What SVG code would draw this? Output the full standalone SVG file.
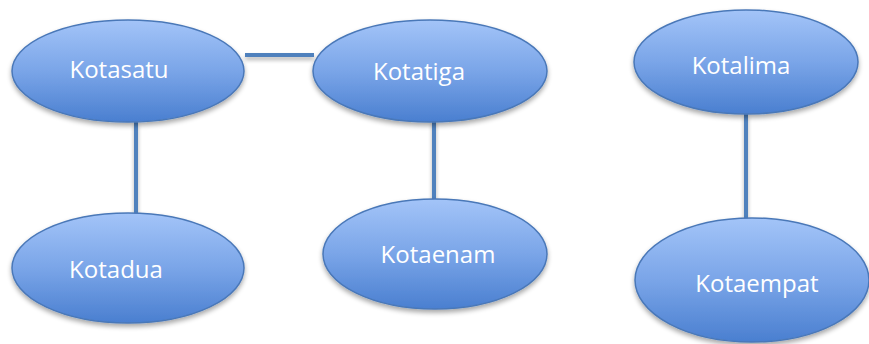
<svg xmlns="http://www.w3.org/2000/svg" width="869" height="344" viewBox="0 0 869 344">
<defs>
<linearGradient id="g" x1="0" y1="0" x2="0" y2="1">
<stop offset="0" stop-color="#a3c4f8"/>
<stop offset="0.5" stop-color="#7aa5e8"/>
<stop offset="1" stop-color="#4a7fd0"/>
</linearGradient>
<filter id="sh" x="-20%" y="-20%" width="140%" height="150%">
<feGaussianBlur in="SourceAlpha" stdDeviation="2.5"/>
<feOffset dy="3" result="b"/>
<feComponentTransfer><feFuncA type="linear" slope="0.35"/></feComponentTransfer>
<feMerge><feMergeNode/><feMergeNode in="SourceGraphic"/></feMerge>
</filter>
<filter id="shc" filterUnits="userSpaceOnUse" x="0" y="0" width="869" height="344">
<feGaussianBlur in="SourceAlpha" stdDeviation="2"/>
<feOffset dy="3" result="b"/>
<feComponentTransfer><feFuncA type="linear" slope="0.3"/></feComponentTransfer>
<feMerge><feMergeNode/><feMergeNode in="SourceGraphic"/></feMerge>
</filter>
</defs>
<style>
.n{fill:url(#g);stroke:#4a78b8;stroke-width:1.5;filter:url(#sh)}
.t{font-family:"Open Sans",sans-serif;font-size:24px;fill:#ffffff}
.c{stroke:#4f81bd;stroke-width:4;fill:none;filter:url(#shc)}
</style>
<g id="connectors">
<line class="c" x1="245" y1="55" x2="314" y2="55"/>
<line class="c" x1="136" y1="122" x2="136" y2="215"/>
<line class="c" x1="434" y1="120" x2="434" y2="200"/>
<line class="c" x1="746" y1="114" x2="746" y2="220"/>
</g>
<g id="kotasatu">
<ellipse class="n" cx="128" cy="71" rx="116" ry="51"/>
<text class="t" x="119" y="78" text-anchor="middle">Kotasatu</text>
</g>
<g id="kotatiga">
<ellipse class="n" cx="430" cy="71" rx="117" ry="51"/>
<text class="t" x="419" y="80" text-anchor="middle">Kotatiga</text>
</g>
<g id="kotadua">
<ellipse class="n" cx="128" cy="268" rx="116" ry="55"/>
<text class="t" x="116" y="278" text-anchor="middle">Kotadua</text>
</g>
<g id="kotaenam">
<ellipse class="n" cx="435" cy="254" rx="112" ry="55"/>
<text class="t" x="438" y="263" text-anchor="middle">Kotaenam</text>
</g>
<g id="kotalima">
<ellipse class="n" cx="746" cy="62" rx="112" ry="52"/>
<text class="t" x="741" y="74" text-anchor="middle">Kotalima</text>
</g>
<g id="kotaempat">
<ellipse class="n" cx="752" cy="280" rx="117" ry="62"/>
<text class="t" x="757" y="292" text-anchor="middle">Kotaempat</text>
</g>
</svg>
